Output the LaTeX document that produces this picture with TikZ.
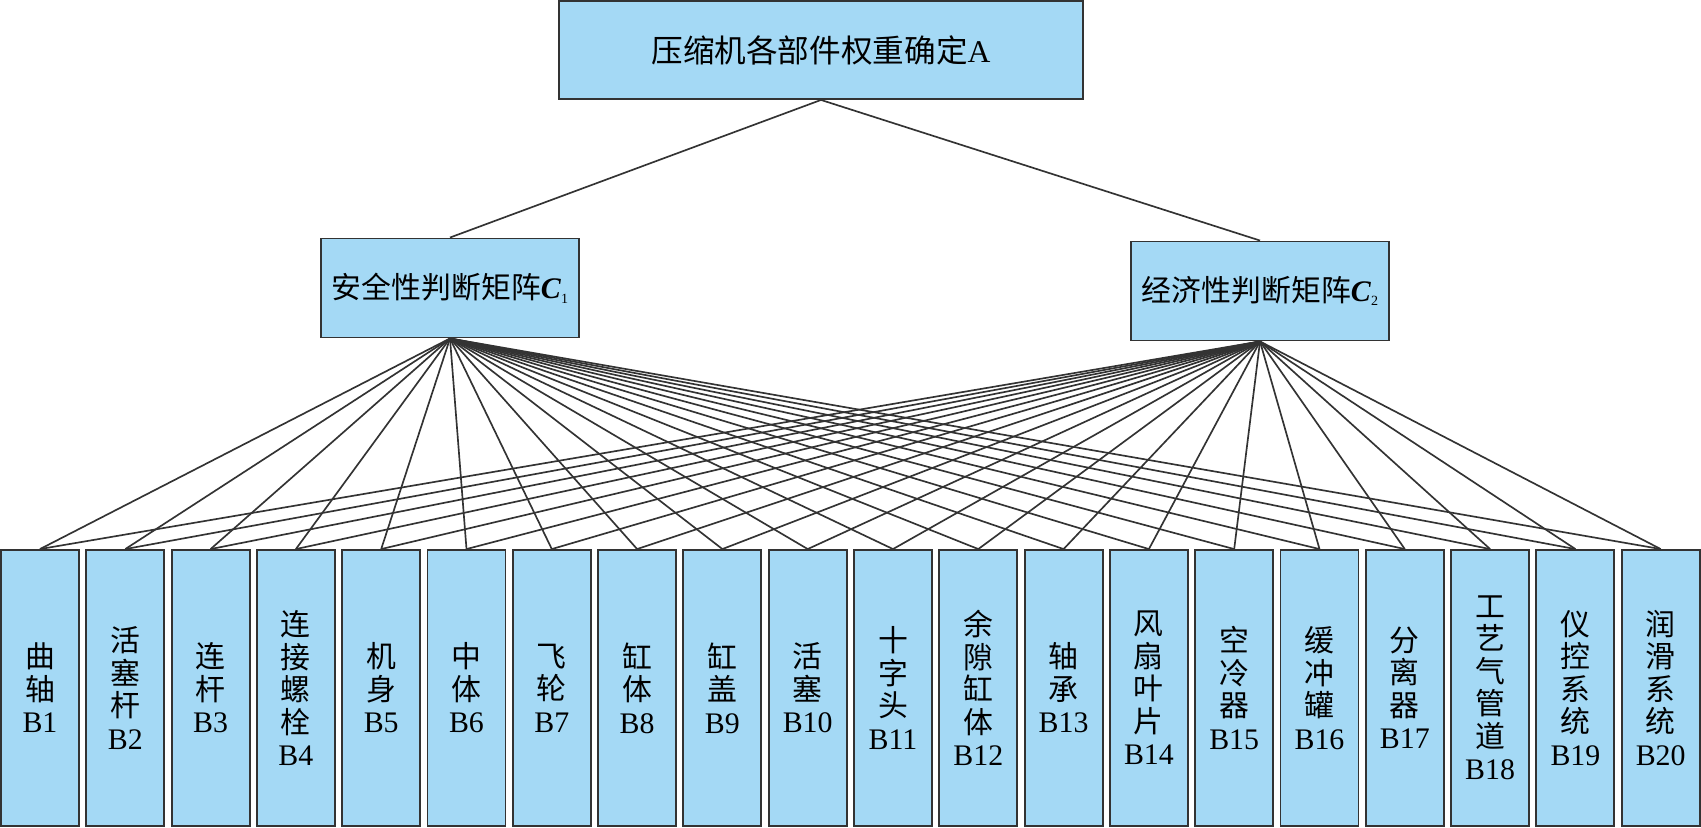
\documentclass[tikz,border=0pt]{standalone}
\usepackage{fontspec}
\setmainfont{Liberation Serif}
\newfontfamily\cjk{Noto Sans CJK SC}
\usetikzlibrary{positioning}
\definecolor{boxfill}{HTML}{A4D9F5}
\definecolor{ink}{HTML}{333333}
\tikzset{
  box/.style={draw=ink,line width=1.1pt,fill=boxfill,inner sep=0pt,align=center},
  link/.style={ink,line width=0.95pt},
}
\newcommand{\matsub}[1]{\raisebox{-0.35ex}{\footnotesize #1}}

\begin{document}
\begin{tikzpicture}[x=0.02cm,y=-0.02cm]
  \useasboundingbox (0,0) rectangle (1701,828);
  \node[box,minimum width=10.48cm,minimum height=1.96cm,font=\fontsize{18}{20}\selectfont] (A) at (821,50) {{\cjk 压缩机各部件权重确定}A};
  \node[box,minimum width=5.16cm,minimum height=1.98cm,font=\fontsize{17}{20}\selectfont] (C1) at (450,288) {{\cjk 安全性判断矩阵}\textbf{\textit{C}}\matsub{1}};
  \node[box,minimum width=5.16cm,minimum height=1.98cm,font=\fontsize{17}{20}\selectfont] (C2) at (1260,291) {{\cjk 经济性判断矩阵}\textbf{\textit{C}}\matsub{2}};
  \foreach \lab [count=\i] in {曲\\轴,活\\塞\\杆,连\\杆,连\\接\\螺\\栓,机\\身,中\\体,飞\\轮,缸\\体,缸\\盖,活\\塞,
    十\\字\\头,余\\隙\\缸\\体,轴\\承,风\\扇\\叶\\片,空\\冷\\器,缓\\冲\\罐,分\\离\\器,工\\艺\\气\\管\\道,仪\\控\\系\\统,润\\滑\\系\\统}{
    \node[box,minimum width=1.56cm,minimum height=5.52cm,font=\cjk\fontsize{17}{18.5}\selectfont] (B\i) at ({40+85.3*(\i-1)},688) {\lab\\\rmfamily B\i};
  }
  \draw[link] (A.south) -- (C1.north);
  \draw[link] (A.south) -- (C2.north);
  \foreach \i in {1,...,20}{
    \draw[link] (C1.south) -- (B\i.north);
    \draw[link] (C2.south) -- (B\i.north);
  }
\end{tikzpicture}
\end{document}
